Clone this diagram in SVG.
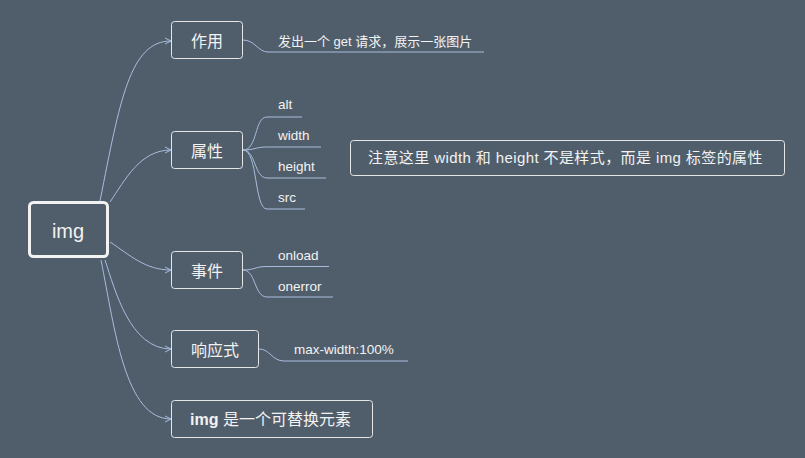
<svg xmlns="http://www.w3.org/2000/svg" width="805" height="458" viewBox="0 0 805 458">
<defs>
<marker id="arr" viewBox="0 0 8 8" refX="7" refY="4" markerWidth="8" markerHeight="8" markerUnits="userSpaceOnUse" orient="auto">
<path d="M1,1 L7,4 L1,7" fill="none" stroke="#a9bcdc" stroke-width="1"/>
</marker>
<style>
.bg{fill:#505e6c}
.box{fill:#505e6c;stroke:#e6e6e6;stroke-width:1}
.root{fill:#505e6c;stroke:#f2f2f2;stroke-width:3}
.t{font-family:"Liberation Sans","Noto Sans CJK SC",sans-serif;fill:#f2f2f2}
.n{font-size:16px}
.c{font-size:13.5px}
.con{fill:none;stroke:#a9bcdc;stroke-width:1}
</style>
</defs>
<rect class="bg" x="0" y="0" width="805" height="458"/>
<g id="connectors">
<path class="con" marker-end="url(#arr)" d="M100,201 C120,100 130,41 171,41"/>
<path class="con" marker-end="url(#arr)" d="M110,202 C125,180 140,150 171,150"/>
<path class="con" marker-end="url(#arr)" d="M110,242 C130,255 145,270 171,270"/>
<path class="con" marker-end="url(#arr)" d="M105,260 C115,290 130,349 171,349"/>
<path class="con" marker-end="url(#arr)" d="M101,260 C115,330 125,419 171,419"/>
<path class="con" d="M243,40 C255,40 258,52 268,52 L484,52"/>
<path class="con" d="M243,150 C258,150 254,117 267,117 L302,117"/>
<path class="con" d="M243,150 C255,150 255,147 267,147 L321,147"/>
<path class="con" d="M243,150 C256,150 254,178 267,178 L326,178"/>
<path class="con" d="M243,150 C258,150 254,209 267,209 L305,209"/>
<path class="con" d="M243,270 C255,270 255,266.5 267,266.5 L329,266.5"/>
<path class="con" d="M243,270 C256,270 254,297 267,297 L333,297"/>
<path class="con" d="M259,349 C270,349 272,361 284,361 L408,361"/>
</g>
<g id="root">
<rect class="root" x="29.5" y="202.5" width="78" height="54" rx="4"/>
<text class="t" x="68" y="238" font-size="20" text-anchor="middle">img</text>
</g>
<g id="zuoyong">
<rect class="box" x="171.5" y="21.5" width="71" height="37" rx="3"/>
<text class="t n" x="207" y="47" text-anchor="middle">作用</text>
<text class="t" x="278" y="46" font-size="13">发出一个 get 请求，展示一张图片</text>
</g>
<g id="shuxing">
<rect class="box" x="171.5" y="131.5" width="71" height="37" rx="3"/>
<text class="t n" x="207" y="157" text-anchor="middle">属性</text>
<text class="t c" x="278" y="109">alt</text>
<text class="t c" x="278" y="140">width</text>
<text class="t c" x="278" y="171">height</text>
<text class="t c" x="278" y="202">src</text>
</g>
<g id="note">
<rect class="box" x="350.5" y="140.5" width="434" height="35" rx="3"/>
<text class="t" x="368" y="163" font-size="15" letter-spacing="0.4">注意这里 width 和 height 不是样式，而是 img 标签的属性</text>
</g>
<g id="shijian">
<rect class="box" x="171.5" y="251.5" width="71" height="37" rx="3"/>
<text class="t n" x="207" y="277" text-anchor="middle">事件</text>
<text class="t c" x="278" y="260">onload</text>
<text class="t c" x="278" y="291">onerror</text>
</g>
<g id="xiangyingshi">
<rect class="box" x="171.5" y="330.5" width="87" height="37" rx="3"/>
<text class="t n" x="215" y="356" text-anchor="middle">响应式</text>
<text class="t c" x="294" y="354">max-width:100%</text>
</g>
<g id="replaced">
<rect class="box" x="171.5" y="400.5" width="201" height="37" rx="3"/>
<text class="t n" x="190" y="425"><tspan font-weight="bold">img</tspan> 是一个可替换元素</text>
</g>
</svg>
